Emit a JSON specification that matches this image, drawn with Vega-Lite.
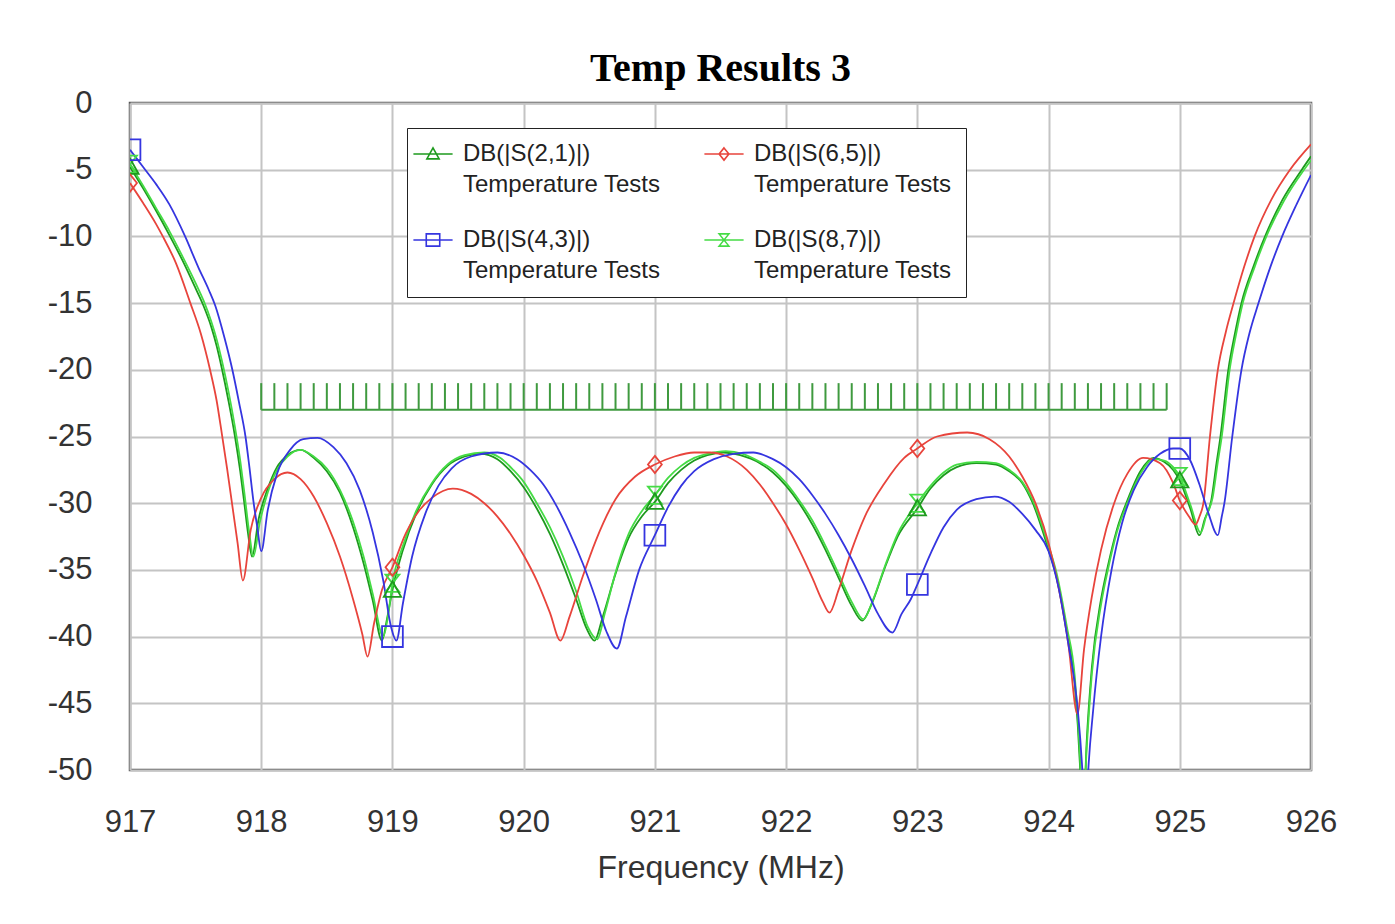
{
  "$schema": "https://vega.github.io/schema/vega-lite/v6.json",
  "width": 1181,
  "height": 667,
  "autosize": {"type": "none"},
  "padding": {"left": 130, "top": 103, "right": 84, "bottom": 154},
  "background": "white",
  "title": {"text": "Temp Results 3", "font": "Liberation Serif", "fontSize": 40, "fontWeight": "bold", "color": "#000", "anchor": "middle", "offset": -2},
  "config": {
    "view": {"stroke": "#555", "strokeWidth": 2.5},
    "axis": {"grid": true, "gridColor": "#c4c4c4", "gridWidth": 2, "ticks": false, "domain": false, "labelFont": "Liberation Sans", "labelFontSize": 31, "labelColor": "#333", "titleFont": "Liberation Sans", "titleFontSize": 32, "titleFontWeight": "normal", "titleColor": "#333"}
  },
  "datasets": {
    "curves": [
      {"s": "DB(|S(2,1)|)", "f": 917.00, "db": -4.8},
      {"s": "DB(|S(2,1)|)", "f": 917.10, "db": -6.4},
      {"s": "DB(|S(2,1)|)", "f": 917.20, "db": -8.1},
      {"s": "DB(|S(2,1)|)", "f": 917.30, "db": -9.9},
      {"s": "DB(|S(2,1)|)", "f": 917.40, "db": -11.8},
      {"s": "DB(|S(2,1)|)", "f": 917.50, "db": -13.9},
      {"s": "DB(|S(2,1)|)", "f": 917.56, "db": -15.2},
      {"s": "DB(|S(2,1)|)", "f": 917.62, "db": -16.8},
      {"s": "DB(|S(2,1)|)", "f": 917.66, "db": -18.2},
      {"s": "DB(|S(2,1)|)", "f": 917.70, "db": -19.9},
      {"s": "DB(|S(2,1)|)", "f": 917.75, "db": -22.3},
      {"s": "DB(|S(2,1)|)", "f": 917.80, "db": -25.0},
      {"s": "DB(|S(2,1)|)", "f": 917.84, "db": -27.6},
      {"s": "DB(|S(2,1)|)", "f": 917.87, "db": -29.9},
      {"s": "DB(|S(2,1)|)", "f": 917.90, "db": -32.3},
      {"s": "DB(|S(2,1)|)", "f": 917.93, "db": -34.0},
      {"s": "DB(|S(2,1)|)", "f": 917.98, "db": -31.2},
      {"s": "DB(|S(2,1)|)", "f": 918.05, "db": -28.9},
      {"s": "DB(|S(2,1)|)", "f": 918.12, "db": -27.3},
      {"s": "DB(|S(2,1)|)", "f": 918.20, "db": -26.4},
      {"s": "DB(|S(2,1)|)", "f": 918.30, "db": -26.0},
      {"s": "DB(|S(2,1)|)", "f": 918.40, "db": -26.6},
      {"s": "DB(|S(2,1)|)", "f": 918.50, "db": -27.6},
      {"s": "DB(|S(2,1)|)", "f": 918.60, "db": -29.2},
      {"s": "DB(|S(2,1)|)", "f": 918.70, "db": -31.8},
      {"s": "DB(|S(2,1)|)", "f": 918.78, "db": -34.5},
      {"s": "DB(|S(2,1)|)", "f": 918.85, "db": -37.3},
      {"s": "DB(|S(2,1)|)", "f": 918.92, "db": -40.3},
      {"s": "DB(|S(2,1)|)", "f": 918.96, "db": -38.6},
      {"s": "DB(|S(2,1)|)", "f": 919.00, "db": -36.5},
      {"s": "DB(|S(2,1)|)", "f": 919.08, "db": -33.5},
      {"s": "DB(|S(2,1)|)", "f": 919.18, "db": -30.8},
      {"s": "DB(|S(2,1)|)", "f": 919.30, "db": -28.6},
      {"s": "DB(|S(2,1)|)", "f": 919.42, "db": -27.2},
      {"s": "DB(|S(2,1)|)", "f": 919.55, "db": -26.5},
      {"s": "DB(|S(2,1)|)", "f": 919.67, "db": -26.3},
      {"s": "DB(|S(2,1)|)", "f": 919.80, "db": -26.7},
      {"s": "DB(|S(2,1)|)", "f": 919.90, "db": -27.6},
      {"s": "DB(|S(2,1)|)", "f": 920.00, "db": -28.8},
      {"s": "DB(|S(2,1)|)", "f": 920.10, "db": -30.4},
      {"s": "DB(|S(2,1)|)", "f": 920.20, "db": -32.3},
      {"s": "DB(|S(2,1)|)", "f": 920.30, "db": -34.6},
      {"s": "DB(|S(2,1)|)", "f": 920.40, "db": -37.2},
      {"s": "DB(|S(2,1)|)", "f": 920.48, "db": -39.4},
      {"s": "DB(|S(2,1)|)", "f": 920.54, "db": -40.3},
      {"s": "DB(|S(2,1)|)", "f": 920.60, "db": -38.6},
      {"s": "DB(|S(2,1)|)", "f": 920.70, "db": -35.3},
      {"s": "DB(|S(2,1)|)", "f": 920.80, "db": -32.6},
      {"s": "DB(|S(2,1)|)", "f": 920.90, "db": -31.0},
      {"s": "DB(|S(2,1)|)", "f": 921.00, "db": -29.9},
      {"s": "DB(|S(2,1)|)", "f": 921.10, "db": -28.5},
      {"s": "DB(|S(2,1)|)", "f": 921.20, "db": -27.5},
      {"s": "DB(|S(2,1)|)", "f": 921.30, "db": -26.8},
      {"s": "DB(|S(2,1)|)", "f": 921.40, "db": -26.4},
      {"s": "DB(|S(2,1)|)", "f": 921.52, "db": -26.2},
      {"s": "DB(|S(2,1)|)", "f": 921.65, "db": -26.4},
      {"s": "DB(|S(2,1)|)", "f": 921.80, "db": -27.0},
      {"s": "DB(|S(2,1)|)", "f": 921.90, "db": -27.7},
      {"s": "DB(|S(2,1)|)", "f": 922.00, "db": -28.7},
      {"s": "DB(|S(2,1)|)", "f": 922.10, "db": -30.0},
      {"s": "DB(|S(2,1)|)", "f": 922.20, "db": -31.6},
      {"s": "DB(|S(2,1)|)", "f": 922.30, "db": -33.5},
      {"s": "DB(|S(2,1)|)", "f": 922.40, "db": -35.6},
      {"s": "DB(|S(2,1)|)", "f": 922.50, "db": -37.7},
      {"s": "DB(|S(2,1)|)", "f": 922.58, "db": -38.8},
      {"s": "DB(|S(2,1)|)", "f": 922.65, "db": -37.6},
      {"s": "DB(|S(2,1)|)", "f": 922.75, "db": -34.9},
      {"s": "DB(|S(2,1)|)", "f": 922.85, "db": -32.5},
      {"s": "DB(|S(2,1)|)", "f": 923.00, "db": -30.4},
      {"s": "DB(|S(2,1)|)", "f": 923.10, "db": -28.9},
      {"s": "DB(|S(2,1)|)", "f": 923.20, "db": -27.9},
      {"s": "DB(|S(2,1)|)", "f": 923.30, "db": -27.3},
      {"s": "DB(|S(2,1)|)", "f": 923.45, "db": -27.0},
      {"s": "DB(|S(2,1)|)", "f": 923.60, "db": -27.1},
      {"s": "DB(|S(2,1)|)", "f": 923.70, "db": -27.6},
      {"s": "DB(|S(2,1)|)", "f": 923.80, "db": -28.5},
      {"s": "DB(|S(2,1)|)", "f": 923.88, "db": -30.0},
      {"s": "DB(|S(2,1)|)", "f": 924.00, "db": -33.5},
      {"s": "DB(|S(2,1)|)", "f": 924.06, "db": -35.5},
      {"s": "DB(|S(2,1)|)", "f": 924.14, "db": -39.7},
      {"s": "DB(|S(2,1)|)", "f": 924.20, "db": -43.6},
      {"s": "DB(|S(2,1)|)", "f": 924.24, "db": -49.8},
      {"s": "DB(|S(2,1)|)", "f": 924.26, "db": -55.0},
      {"s": "DB(|S(2,1)|)", "f": 924.29, "db": -48.0},
      {"s": "DB(|S(2,1)|)", "f": 924.33, "db": -42.3},
      {"s": "DB(|S(2,1)|)", "f": 924.40, "db": -37.2},
      {"s": "DB(|S(2,1)|)", "f": 924.45, "db": -34.8},
      {"s": "DB(|S(2,1)|)", "f": 924.52, "db": -32.0},
      {"s": "DB(|S(2,1)|)", "f": 924.60, "db": -29.8},
      {"s": "DB(|S(2,1)|)", "f": 924.70, "db": -27.6},
      {"s": "DB(|S(2,1)|)", "f": 924.80, "db": -26.6},
      {"s": "DB(|S(2,1)|)", "f": 924.88, "db": -26.9},
      {"s": "DB(|S(2,1)|)", "f": 924.95, "db": -27.5},
      {"s": "DB(|S(2,1)|)", "f": 925.00, "db": -28.3},
      {"s": "DB(|S(2,1)|)", "f": 925.08, "db": -30.4},
      {"s": "DB(|S(2,1)|)", "f": 925.15, "db": -32.4},
      {"s": "DB(|S(2,1)|)", "f": 925.19, "db": -31.2},
      {"s": "DB(|S(2,1)|)", "f": 925.24, "db": -29.8},
      {"s": "DB(|S(2,1)|)", "f": 925.28, "db": -27.0},
      {"s": "DB(|S(2,1)|)", "f": 925.31, "db": -25.0},
      {"s": "DB(|S(2,1)|)", "f": 925.37, "db": -20.0},
      {"s": "DB(|S(2,1)|)", "f": 925.42, "db": -17.3},
      {"s": "DB(|S(2,1)|)", "f": 925.47, "db": -15.0},
      {"s": "DB(|S(2,1)|)", "f": 925.56, "db": -12.3},
      {"s": "DB(|S(2,1)|)", "f": 925.65, "db": -10.0},
      {"s": "DB(|S(2,1)|)", "f": 925.78, "db": -7.3},
      {"s": "DB(|S(2,1)|)", "f": 925.93, "db": -5.0},
      {"s": "DB(|S(2,1)|)", "f": 926.00, "db": -4.0},

      {"s": "DB(|S(8,7)|)", "f": 917.00, "db": -4.6},
      {"s": "DB(|S(8,7)|)", "f": 917.10, "db": -6.2},
      {"s": "DB(|S(8,7)|)", "f": 917.20, "db": -7.9},
      {"s": "DB(|S(8,7)|)", "f": 917.30, "db": -9.6},
      {"s": "DB(|S(8,7)|)", "f": 917.40, "db": -11.5},
      {"s": "DB(|S(8,7)|)", "f": 917.50, "db": -13.5},
      {"s": "DB(|S(8,7)|)", "f": 917.56, "db": -14.8},
      {"s": "DB(|S(8,7)|)", "f": 917.62, "db": -16.4},
      {"s": "DB(|S(8,7)|)", "f": 917.66, "db": -17.7},
      {"s": "DB(|S(8,7)|)", "f": 917.70, "db": -19.3},
      {"s": "DB(|S(8,7)|)", "f": 917.75, "db": -21.6},
      {"s": "DB(|S(8,7)|)", "f": 917.80, "db": -24.3},
      {"s": "DB(|S(8,7)|)", "f": 917.84, "db": -26.8},
      {"s": "DB(|S(8,7)|)", "f": 917.87, "db": -29.1},
      {"s": "DB(|S(8,7)|)", "f": 917.91, "db": -32.3},
      {"s": "DB(|S(8,7)|)", "f": 917.94, "db": -34.0},
      {"s": "DB(|S(8,7)|)", "f": 917.99, "db": -31.4},
      {"s": "DB(|S(8,7)|)", "f": 918.05, "db": -29.2},
      {"s": "DB(|S(8,7)|)", "f": 918.12, "db": -27.5},
      {"s": "DB(|S(8,7)|)", "f": 918.20, "db": -26.5},
      {"s": "DB(|S(8,7)|)", "f": 918.30, "db": -26.0},
      {"s": "DB(|S(8,7)|)", "f": 918.40, "db": -26.5},
      {"s": "DB(|S(8,7)|)", "f": 918.50, "db": -27.4},
      {"s": "DB(|S(8,7)|)", "f": 918.60, "db": -29.0},
      {"s": "DB(|S(8,7)|)", "f": 918.70, "db": -31.4},
      {"s": "DB(|S(8,7)|)", "f": 918.78, "db": -34.0},
      {"s": "DB(|S(8,7)|)", "f": 918.85, "db": -36.8},
      {"s": "DB(|S(8,7)|)", "f": 918.93, "db": -40.0},
      {"s": "DB(|S(8,7)|)", "f": 918.97, "db": -38.2},
      {"s": "DB(|S(8,7)|)", "f": 919.00, "db": -36.0},
      {"s": "DB(|S(8,7)|)", "f": 919.08, "db": -33.2},
      {"s": "DB(|S(8,7)|)", "f": 919.18, "db": -30.6},
      {"s": "DB(|S(8,7)|)", "f": 919.30, "db": -28.5},
      {"s": "DB(|S(8,7)|)", "f": 919.42, "db": -27.1},
      {"s": "DB(|S(8,7)|)", "f": 919.55, "db": -26.4},
      {"s": "DB(|S(8,7)|)", "f": 919.70, "db": -26.2},
      {"s": "DB(|S(8,7)|)", "f": 919.82, "db": -26.6},
      {"s": "DB(|S(8,7)|)", "f": 919.92, "db": -27.5},
      {"s": "DB(|S(8,7)|)", "f": 920.00, "db": -28.4},
      {"s": "DB(|S(8,7)|)", "f": 920.10, "db": -30.0},
      {"s": "DB(|S(8,7)|)", "f": 920.20, "db": -31.8},
      {"s": "DB(|S(8,7)|)", "f": 920.30, "db": -34.0},
      {"s": "DB(|S(8,7)|)", "f": 920.40, "db": -36.6},
      {"s": "DB(|S(8,7)|)", "f": 920.49, "db": -39.3},
      {"s": "DB(|S(8,7)|)", "f": 920.56, "db": -40.2},
      {"s": "DB(|S(8,7)|)", "f": 920.62, "db": -38.2},
      {"s": "DB(|S(8,7)|)", "f": 920.70, "db": -35.2},
      {"s": "DB(|S(8,7)|)", "f": 920.80, "db": -32.3},
      {"s": "DB(|S(8,7)|)", "f": 920.90, "db": -30.6},
      {"s": "DB(|S(8,7)|)", "f": 921.00, "db": -29.4},
      {"s": "DB(|S(8,7)|)", "f": 921.10, "db": -28.1},
      {"s": "DB(|S(8,7)|)", "f": 921.20, "db": -27.2},
      {"s": "DB(|S(8,7)|)", "f": 921.30, "db": -26.6},
      {"s": "DB(|S(8,7)|)", "f": 921.40, "db": -26.3},
      {"s": "DB(|S(8,7)|)", "f": 921.54, "db": -26.1},
      {"s": "DB(|S(8,7)|)", "f": 921.67, "db": -26.3},
      {"s": "DB(|S(8,7)|)", "f": 921.80, "db": -26.9},
      {"s": "DB(|S(8,7)|)", "f": 921.90, "db": -27.5},
      {"s": "DB(|S(8,7)|)", "f": 922.00, "db": -28.5},
      {"s": "DB(|S(8,7)|)", "f": 922.10, "db": -29.8},
      {"s": "DB(|S(8,7)|)", "f": 922.20, "db": -31.3},
      {"s": "DB(|S(8,7)|)", "f": 922.30, "db": -33.2},
      {"s": "DB(|S(8,7)|)", "f": 922.40, "db": -35.3},
      {"s": "DB(|S(8,7)|)", "f": 922.50, "db": -37.4},
      {"s": "DB(|S(8,7)|)", "f": 922.59, "db": -38.7},
      {"s": "DB(|S(8,7)|)", "f": 922.66, "db": -37.3},
      {"s": "DB(|S(8,7)|)", "f": 922.75, "db": -34.8},
      {"s": "DB(|S(8,7)|)", "f": 922.85, "db": -32.3},
      {"s": "DB(|S(8,7)|)", "f": 923.00, "db": -30.0},
      {"s": "DB(|S(8,7)|)", "f": 923.10, "db": -28.7},
      {"s": "DB(|S(8,7)|)", "f": 923.20, "db": -27.7},
      {"s": "DB(|S(8,7)|)", "f": 923.30, "db": -27.1},
      {"s": "DB(|S(8,7)|)", "f": 923.45, "db": -26.9},
      {"s": "DB(|S(8,7)|)", "f": 923.60, "db": -27.0},
      {"s": "DB(|S(8,7)|)", "f": 923.70, "db": -27.5},
      {"s": "DB(|S(8,7)|)", "f": 923.80, "db": -28.4},
      {"s": "DB(|S(8,7)|)", "f": 923.88, "db": -29.8},
      {"s": "DB(|S(8,7)|)", "f": 924.00, "db": -33.2},
      {"s": "DB(|S(8,7)|)", "f": 924.06, "db": -35.2},
      {"s": "DB(|S(8,7)|)", "f": 924.14, "db": -39.3},
      {"s": "DB(|S(8,7)|)", "f": 924.20, "db": -43.0},
      {"s": "DB(|S(8,7)|)", "f": 924.24, "db": -49.0},
      {"s": "DB(|S(8,7)|)", "f": 924.26, "db": -54.0},
      {"s": "DB(|S(8,7)|)", "f": 924.29, "db": -48.5},
      {"s": "DB(|S(8,7)|)", "f": 924.33, "db": -42.8},
      {"s": "DB(|S(8,7)|)", "f": 924.40, "db": -37.6},
      {"s": "DB(|S(8,7)|)", "f": 924.45, "db": -35.1},
      {"s": "DB(|S(8,7)|)", "f": 924.52, "db": -32.2},
      {"s": "DB(|S(8,7)|)", "f": 924.60, "db": -30.0},
      {"s": "DB(|S(8,7)|)", "f": 924.70, "db": -27.8},
      {"s": "DB(|S(8,7)|)", "f": 924.80, "db": -26.7},
      {"s": "DB(|S(8,7)|)", "f": 924.88, "db": -26.8},
      {"s": "DB(|S(8,7)|)", "f": 924.95, "db": -27.3},
      {"s": "DB(|S(8,7)|)", "f": 925.00, "db": -28.0},
      {"s": "DB(|S(8,7)|)", "f": 925.08, "db": -30.1},
      {"s": "DB(|S(8,7)|)", "f": 925.16, "db": -32.2},
      {"s": "DB(|S(8,7)|)", "f": 925.20, "db": -31.0},
      {"s": "DB(|S(8,7)|)", "f": 925.25, "db": -29.6},
      {"s": "DB(|S(8,7)|)", "f": 925.29, "db": -26.9},
      {"s": "DB(|S(8,7)|)", "f": 925.32, "db": -25.0},
      {"s": "DB(|S(8,7)|)", "f": 925.38, "db": -20.0},
      {"s": "DB(|S(8,7)|)", "f": 925.43, "db": -17.3},
      {"s": "DB(|S(8,7)|)", "f": 925.48, "db": -15.0},
      {"s": "DB(|S(8,7)|)", "f": 925.57, "db": -12.3},
      {"s": "DB(|S(8,7)|)", "f": 925.66, "db": -10.0},
      {"s": "DB(|S(8,7)|)", "f": 925.79, "db": -7.4},
      {"s": "DB(|S(8,7)|)", "f": 925.94, "db": -5.1},
      {"s": "DB(|S(8,7)|)", "f": 926.00, "db": -4.3},

      {"s": "DB(|S(6,5)|)", "f": 917.00, "db": -6.0},
      {"s": "DB(|S(6,5)|)", "f": 917.10, "db": -7.5},
      {"s": "DB(|S(6,5)|)", "f": 917.20, "db": -9.1},
      {"s": "DB(|S(6,5)|)", "f": 917.25, "db": -10.0},
      {"s": "DB(|S(6,5)|)", "f": 917.35, "db": -12.0},
      {"s": "DB(|S(6,5)|)", "f": 917.46, "db": -15.0},
      {"s": "DB(|S(6,5)|)", "f": 917.54, "db": -17.3},
      {"s": "DB(|S(6,5)|)", "f": 917.61, "db": -20.0},
      {"s": "DB(|S(6,5)|)", "f": 917.66, "db": -22.3},
      {"s": "DB(|S(6,5)|)", "f": 917.70, "db": -24.8},
      {"s": "DB(|S(6,5)|)", "f": 917.74, "db": -27.4},
      {"s": "DB(|S(6,5)|)", "f": 917.78, "db": -30.2},
      {"s": "DB(|S(6,5)|)", "f": 917.82, "db": -33.0},
      {"s": "DB(|S(6,5)|)", "f": 917.86, "db": -35.8},
      {"s": "DB(|S(6,5)|)", "f": 917.92, "db": -32.0},
      {"s": "DB(|S(6,5)|)", "f": 918.00, "db": -29.6},
      {"s": "DB(|S(6,5)|)", "f": 918.10, "db": -28.2},
      {"s": "DB(|S(6,5)|)", "f": 918.20, "db": -27.7},
      {"s": "DB(|S(6,5)|)", "f": 918.30, "db": -28.2},
      {"s": "DB(|S(6,5)|)", "f": 918.40, "db": -29.5},
      {"s": "DB(|S(6,5)|)", "f": 918.50, "db": -31.5},
      {"s": "DB(|S(6,5)|)", "f": 918.60, "db": -34.0},
      {"s": "DB(|S(6,5)|)", "f": 918.70, "db": -37.2},
      {"s": "DB(|S(6,5)|)", "f": 918.77, "db": -39.8},
      {"s": "DB(|S(6,5)|)", "f": 918.81, "db": -41.5},
      {"s": "DB(|S(6,5)|)", "f": 918.86, "db": -39.0},
      {"s": "DB(|S(6,5)|)", "f": 918.92, "db": -36.5},
      {"s": "DB(|S(6,5)|)", "f": 919.00, "db": -34.8},
      {"s": "DB(|S(6,5)|)", "f": 919.10, "db": -32.3},
      {"s": "DB(|S(6,5)|)", "f": 919.20, "db": -30.6},
      {"s": "DB(|S(6,5)|)", "f": 919.30, "db": -29.6},
      {"s": "DB(|S(6,5)|)", "f": 919.46, "db": -28.9},
      {"s": "DB(|S(6,5)|)", "f": 919.60, "db": -29.3},
      {"s": "DB(|S(6,5)|)", "f": 919.70, "db": -30.0},
      {"s": "DB(|S(6,5)|)", "f": 919.80, "db": -31.0},
      {"s": "DB(|S(6,5)|)", "f": 919.90, "db": -32.3},
      {"s": "DB(|S(6,5)|)", "f": 920.00, "db": -33.9},
      {"s": "DB(|S(6,5)|)", "f": 920.10, "db": -35.8},
      {"s": "DB(|S(6,5)|)", "f": 920.20, "db": -38.2},
      {"s": "DB(|S(6,5)|)", "f": 920.28, "db": -40.3},
      {"s": "DB(|S(6,5)|)", "f": 920.35, "db": -38.5},
      {"s": "DB(|S(6,5)|)", "f": 920.45, "db": -35.5},
      {"s": "DB(|S(6,5)|)", "f": 920.55, "db": -32.8},
      {"s": "DB(|S(6,5)|)", "f": 920.70, "db": -29.7},
      {"s": "DB(|S(6,5)|)", "f": 920.85, "db": -28.0},
      {"s": "DB(|S(6,5)|)", "f": 921.00, "db": -27.1},
      {"s": "DB(|S(6,5)|)", "f": 921.15, "db": -26.5},
      {"s": "DB(|S(6,5)|)", "f": 921.30, "db": -26.2},
      {"s": "DB(|S(6,5)|)", "f": 921.42, "db": -26.2},
      {"s": "DB(|S(6,5)|)", "f": 921.55, "db": -26.5},
      {"s": "DB(|S(6,5)|)", "f": 921.70, "db": -27.5},
      {"s": "DB(|S(6,5)|)", "f": 921.80, "db": -28.6},
      {"s": "DB(|S(6,5)|)", "f": 921.90, "db": -30.0},
      {"s": "DB(|S(6,5)|)", "f": 922.00, "db": -31.6},
      {"s": "DB(|S(6,5)|)", "f": 922.10, "db": -33.5},
      {"s": "DB(|S(6,5)|)", "f": 922.20, "db": -35.6},
      {"s": "DB(|S(6,5)|)", "f": 922.28, "db": -37.4},
      {"s": "DB(|S(6,5)|)", "f": 922.33, "db": -38.2},
      {"s": "DB(|S(6,5)|)", "f": 922.40, "db": -36.5},
      {"s": "DB(|S(6,5)|)", "f": 922.50, "db": -33.5},
      {"s": "DB(|S(6,5)|)", "f": 922.60, "db": -31.0},
      {"s": "DB(|S(6,5)|)", "f": 922.75, "db": -28.5},
      {"s": "DB(|S(6,5)|)", "f": 922.90, "db": -26.6},
      {"s": "DB(|S(6,5)|)", "f": 923.00, "db": -25.9},
      {"s": "DB(|S(6,5)|)", "f": 923.15, "db": -25.0},
      {"s": "DB(|S(6,5)|)", "f": 923.38, "db": -24.7},
      {"s": "DB(|S(6,5)|)", "f": 923.55, "db": -25.2},
      {"s": "DB(|S(6,5)|)", "f": 923.70, "db": -26.5},
      {"s": "DB(|S(6,5)|)", "f": 923.80, "db": -28.0},
      {"s": "DB(|S(6,5)|)", "f": 923.90, "db": -30.0},
      {"s": "DB(|S(6,5)|)", "f": 924.00, "db": -33.0},
      {"s": "DB(|S(6,5)|)", "f": 924.08, "db": -36.5},
      {"s": "DB(|S(6,5)|)", "f": 924.15, "db": -40.5},
      {"s": "DB(|S(6,5)|)", "f": 924.22, "db": -45.8},
      {"s": "DB(|S(6,5)|)", "f": 924.27, "db": -41.0},
      {"s": "DB(|S(6,5)|)", "f": 924.33, "db": -37.0},
      {"s": "DB(|S(6,5)|)", "f": 924.40, "db": -33.5},
      {"s": "DB(|S(6,5)|)", "f": 924.50, "db": -30.0},
      {"s": "DB(|S(6,5)|)", "f": 924.60, "db": -27.8},
      {"s": "DB(|S(6,5)|)", "f": 924.72, "db": -26.6},
      {"s": "DB(|S(6,5)|)", "f": 924.85, "db": -27.0},
      {"s": "DB(|S(6,5)|)", "f": 924.95, "db": -28.5},
      {"s": "DB(|S(6,5)|)", "f": 925.00, "db": -29.8},
      {"s": "DB(|S(6,5)|)", "f": 925.07, "db": -31.0},
      {"s": "DB(|S(6,5)|)", "f": 925.12, "db": -31.6},
      {"s": "DB(|S(6,5)|)", "f": 925.15, "db": -31.0},
      {"s": "DB(|S(6,5)|)", "f": 925.18, "db": -30.0},
      {"s": "DB(|S(6,5)|)", "f": 925.23, "db": -25.0},
      {"s": "DB(|S(6,5)|)", "f": 925.29, "db": -20.0},
      {"s": "DB(|S(6,5)|)", "f": 925.35, "db": -17.2},
      {"s": "DB(|S(6,5)|)", "f": 925.41, "db": -15.0},
      {"s": "DB(|S(6,5)|)", "f": 925.49, "db": -12.3},
      {"s": "DB(|S(6,5)|)", "f": 925.57, "db": -10.0},
      {"s": "DB(|S(6,5)|)", "f": 925.70, "db": -7.2},
      {"s": "DB(|S(6,5)|)", "f": 925.84, "db": -5.0},
      {"s": "DB(|S(6,5)|)", "f": 926.00, "db": -3.1},

      {"s": "DB(|S(4,3)|)", "f": 917.00, "db": -3.5},
      {"s": "DB(|S(4,3)|)", "f": 917.10, "db": -4.8},
      {"s": "DB(|S(4,3)|)", "f": 917.20, "db": -6.1},
      {"s": "DB(|S(4,3)|)", "f": 917.30, "db": -7.6},
      {"s": "DB(|S(4,3)|)", "f": 917.42, "db": -10.0},
      {"s": "DB(|S(4,3)|)", "f": 917.52, "db": -12.3},
      {"s": "DB(|S(4,3)|)", "f": 917.60, "db": -14.0},
      {"s": "DB(|S(4,3)|)", "f": 917.65, "db": -15.2},
      {"s": "DB(|S(4,3)|)", "f": 917.72, "db": -17.6},
      {"s": "DB(|S(4,3)|)", "f": 917.78, "db": -20.0},
      {"s": "DB(|S(4,3)|)", "f": 917.83, "db": -22.4},
      {"s": "DB(|S(4,3)|)", "f": 917.88, "db": -25.0},
      {"s": "DB(|S(4,3)|)", "f": 917.91, "db": -27.3},
      {"s": "DB(|S(4,3)|)", "f": 917.94, "db": -29.8},
      {"s": "DB(|S(4,3)|)", "f": 917.97, "db": -31.8},
      {"s": "DB(|S(4,3)|)", "f": 918.00, "db": -33.6},
      {"s": "DB(|S(4,3)|)", "f": 918.05, "db": -30.5},
      {"s": "DB(|S(4,3)|)", "f": 918.12, "db": -27.8},
      {"s": "DB(|S(4,3)|)", "f": 918.22, "db": -26.0},
      {"s": "DB(|S(4,3)|)", "f": 918.32, "db": -25.2},
      {"s": "DB(|S(4,3)|)", "f": 918.43, "db": -25.1},
      {"s": "DB(|S(4,3)|)", "f": 918.55, "db": -25.8},
      {"s": "DB(|S(4,3)|)", "f": 918.65, "db": -27.0},
      {"s": "DB(|S(4,3)|)", "f": 918.75, "db": -29.0},
      {"s": "DB(|S(4,3)|)", "f": 918.85, "db": -32.2},
      {"s": "DB(|S(4,3)|)", "f": 918.93, "db": -35.8},
      {"s": "DB(|S(4,3)|)", "f": 918.99, "db": -39.3},
      {"s": "DB(|S(4,3)|)", "f": 919.03, "db": -40.3},
      {"s": "DB(|S(4,3)|)", "f": 919.08, "db": -37.5},
      {"s": "DB(|S(4,3)|)", "f": 919.15, "db": -34.0},
      {"s": "DB(|S(4,3)|)", "f": 919.25, "db": -30.8},
      {"s": "DB(|S(4,3)|)", "f": 919.35, "db": -28.7},
      {"s": "DB(|S(4,3)|)", "f": 919.45, "db": -27.4},
      {"s": "DB(|S(4,3)|)", "f": 919.60, "db": -26.5},
      {"s": "DB(|S(4,3)|)", "f": 919.80, "db": -26.2},
      {"s": "DB(|S(4,3)|)", "f": 919.95, "db": -26.7},
      {"s": "DB(|S(4,3)|)", "f": 920.05, "db": -27.5},
      {"s": "DB(|S(4,3)|)", "f": 920.15, "db": -28.6},
      {"s": "DB(|S(4,3)|)", "f": 920.25, "db": -30.2},
      {"s": "DB(|S(4,3)|)", "f": 920.35, "db": -32.2},
      {"s": "DB(|S(4,3)|)", "f": 920.45, "db": -34.5},
      {"s": "DB(|S(4,3)|)", "f": 920.55, "db": -37.2},
      {"s": "DB(|S(4,3)|)", "f": 920.63, "db": -39.6},
      {"s": "DB(|S(4,3)|)", "f": 920.71, "db": -40.9},
      {"s": "DB(|S(4,3)|)", "f": 920.78, "db": -38.5},
      {"s": "DB(|S(4,3)|)", "f": 920.88, "db": -35.0},
      {"s": "DB(|S(4,3)|)", "f": 921.00, "db": -32.4},
      {"s": "DB(|S(4,3)|)", "f": 921.10, "db": -30.3},
      {"s": "DB(|S(4,3)|)", "f": 921.20, "db": -28.7},
      {"s": "DB(|S(4,3)|)", "f": 921.30, "db": -27.6},
      {"s": "DB(|S(4,3)|)", "f": 921.45, "db": -26.7},
      {"s": "DB(|S(4,3)|)", "f": 921.60, "db": -26.3},
      {"s": "DB(|S(4,3)|)", "f": 921.75, "db": -26.2},
      {"s": "DB(|S(4,3)|)", "f": 921.90, "db": -26.7},
      {"s": "DB(|S(4,3)|)", "f": 922.00, "db": -27.3},
      {"s": "DB(|S(4,3)|)", "f": 922.10, "db": -28.2},
      {"s": "DB(|S(4,3)|)", "f": 922.20, "db": -29.4},
      {"s": "DB(|S(4,3)|)", "f": 922.30, "db": -30.8},
      {"s": "DB(|S(4,3)|)", "f": 922.40, "db": -32.4},
      {"s": "DB(|S(4,3)|)", "f": 922.50, "db": -34.2},
      {"s": "DB(|S(4,3)|)", "f": 922.60, "db": -36.2},
      {"s": "DB(|S(4,3)|)", "f": 922.70, "db": -38.3},
      {"s": "DB(|S(4,3)|)", "f": 922.81, "db": -39.7},
      {"s": "DB(|S(4,3)|)", "f": 922.88, "db": -38.3},
      {"s": "DB(|S(4,3)|)", "f": 922.95, "db": -37.2},
      {"s": "DB(|S(4,3)|)", "f": 923.00, "db": -36.1},
      {"s": "DB(|S(4,3)|)", "f": 923.10, "db": -33.8},
      {"s": "DB(|S(4,3)|)", "f": 923.20, "db": -31.8},
      {"s": "DB(|S(4,3)|)", "f": 923.30, "db": -30.5},
      {"s": "DB(|S(4,3)|)", "f": 923.45, "db": -29.7},
      {"s": "DB(|S(4,3)|)", "f": 923.59, "db": -29.5},
      {"s": "DB(|S(4,3)|)", "f": 923.70, "db": -29.9},
      {"s": "DB(|S(4,3)|)", "f": 923.80, "db": -30.8},
      {"s": "DB(|S(4,3)|)", "f": 923.90, "db": -32.0},
      {"s": "DB(|S(4,3)|)", "f": 924.00, "db": -33.6},
      {"s": "DB(|S(4,3)|)", "f": 924.08, "db": -36.5},
      {"s": "DB(|S(4,3)|)", "f": 924.15, "db": -40.5},
      {"s": "DB(|S(4,3)|)", "f": 924.22, "db": -45.2},
      {"s": "DB(|S(4,3)|)", "f": 924.26, "db": -50.5},
      {"s": "DB(|S(4,3)|)", "f": 924.28, "db": -55.0},
      {"s": "DB(|S(4,3)|)", "f": 924.30, "db": -50.5},
      {"s": "DB(|S(4,3)|)", "f": 924.34, "db": -45.5},
      {"s": "DB(|S(4,3)|)", "f": 924.40, "db": -40.0},
      {"s": "DB(|S(4,3)|)", "f": 924.48, "db": -35.0},
      {"s": "DB(|S(4,3)|)", "f": 924.56, "db": -31.5},
      {"s": "DB(|S(4,3)|)", "f": 924.65, "db": -29.0},
      {"s": "DB(|S(4,3)|)", "f": 924.75, "db": -27.3},
      {"s": "DB(|S(4,3)|)", "f": 924.85, "db": -26.3},
      {"s": "DB(|S(4,3)|)", "f": 924.95, "db": -25.9},
      {"s": "DB(|S(4,3)|)", "f": 925.00, "db": -25.9},
      {"s": "DB(|S(4,3)|)", "f": 925.08, "db": -26.8},
      {"s": "DB(|S(4,3)|)", "f": 925.15, "db": -28.6},
      {"s": "DB(|S(4,3)|)", "f": 925.22, "db": -30.8},
      {"s": "DB(|S(4,3)|)", "f": 925.29, "db": -32.4},
      {"s": "DB(|S(4,3)|)", "f": 925.32, "db": -31.0},
      {"s": "DB(|S(4,3)|)", "f": 925.34, "db": -30.0},
      {"s": "DB(|S(4,3)|)", "f": 925.40, "db": -25.0},
      {"s": "DB(|S(4,3)|)", "f": 925.47, "db": -20.0},
      {"s": "DB(|S(4,3)|)", "f": 925.53, "db": -17.3},
      {"s": "DB(|S(4,3)|)", "f": 925.60, "db": -15.0},
      {"s": "DB(|S(4,3)|)", "f": 925.69, "db": -12.3},
      {"s": "DB(|S(4,3)|)", "f": 925.78, "db": -10.0},
      {"s": "DB(|S(4,3)|)", "f": 925.89, "db": -7.6},
      {"s": "DB(|S(4,3)|)", "f": 926.00, "db": -5.4}
    ],
    "markers": [
      {"s": "DB(|S(8,7)|)", "m": "S87", "f": 917, "db": -4.6},
      {"s": "DB(|S(8,7)|)", "m": "S87", "f": 919, "db": -36.0},
      {"s": "DB(|S(8,7)|)", "m": "S87", "f": 921, "db": -29.4},
      {"s": "DB(|S(8,7)|)", "m": "S87", "f": 923, "db": -30.0},
      {"s": "DB(|S(8,7)|)", "m": "S87", "f": 925, "db": -28.0},
      {"s": "DB(|S(2,1)|)", "m": "S21", "f": 917, "db": -4.8},
      {"s": "DB(|S(2,1)|)", "m": "S21", "f": 919, "db": -36.5},
      {"s": "DB(|S(2,1)|)", "m": "S21", "f": 921, "db": -29.9},
      {"s": "DB(|S(2,1)|)", "m": "S21", "f": 923, "db": -30.4},
      {"s": "DB(|S(2,1)|)", "m": "S21", "f": 925, "db": -28.3},
      {"s": "DB(|S(6,5)|)", "m": "S65", "f": 917, "db": -6.0},
      {"s": "DB(|S(6,5)|)", "m": "S65", "f": 919, "db": -34.8},
      {"s": "DB(|S(6,5)|)", "m": "S65", "f": 921, "db": -27.1},
      {"s": "DB(|S(6,5)|)", "m": "S65", "f": 923, "db": -25.9},
      {"s": "DB(|S(6,5)|)", "m": "S65", "f": 925, "db": -29.8},
      {"s": "DB(|S(4,3)|)", "m": "S43", "f": 917, "db": -3.5},
      {"s": "DB(|S(4,3)|)", "m": "S43", "f": 919, "db": -40.0},
      {"s": "DB(|S(4,3)|)", "m": "S43", "f": 921, "db": -32.4},
      {"s": "DB(|S(4,3)|)", "m": "S43", "f": 923, "db": -36.1},
      {"s": "DB(|S(4,3)|)", "m": "S43", "f": 925, "db": -25.9}
    ],
    "maskBase": [{"f": 918.0, "f2": 924.9}],
    "maskTicks": [
      {"f": 918.0}, {"f": 918.1}, {"f": 918.2}, {"f": 918.3}, {"f": 918.4}, {"f": 918.5}, {"f": 918.6}, {"f": 918.7}, {"f": 918.8}, {"f": 918.9},
      {"f": 919.0}, {"f": 919.1}, {"f": 919.2}, {"f": 919.3}, {"f": 919.4}, {"f": 919.5}, {"f": 919.6}, {"f": 919.7}, {"f": 919.8}, {"f": 919.9},
      {"f": 920.0}, {"f": 920.1}, {"f": 920.2}, {"f": 920.3}, {"f": 920.4}, {"f": 920.5}, {"f": 920.6}, {"f": 920.7}, {"f": 920.8}, {"f": 920.9},
      {"f": 921.0}, {"f": 921.1}, {"f": 921.2}, {"f": 921.3}, {"f": 921.4}, {"f": 921.5}, {"f": 921.6}, {"f": 921.7}, {"f": 921.8}, {"f": 921.9},
      {"f": 922.0}, {"f": 922.1}, {"f": 922.2}, {"f": 922.3}, {"f": 922.4}, {"f": 922.5}, {"f": 922.6}, {"f": 922.7}, {"f": 922.8}, {"f": 922.9},
      {"f": 923.0}, {"f": 923.1}, {"f": 923.2}, {"f": 923.3}, {"f": 923.4}, {"f": 923.5}, {"f": 923.6}, {"f": 923.7}, {"f": 923.8}, {"f": 923.9},
      {"f": 924.0}, {"f": 924.1}, {"f": 924.2}, {"f": 924.3}, {"f": 924.4}, {"f": 924.5}, {"f": 924.6}, {"f": 924.7}, {"f": 924.8}, {"f": 924.9}
    ]
  },
  "layer": [
    {
      "data": {"name": "maskTicks"},
      "mark": {"type": "rule", "color": "#3f9a3f", "strokeWidth": 2},
      "encoding": {
        "x": {"field": "f", "type": "quantitative", "scale": {"domain": [917, 926], "nice": false, "zero": false}, "title": "Frequency (MHz)"},
        "y": {"datum": -21, "type": "quantitative", "scale": {"domain": [-50, 0], "nice": false}},
        "y2": {"datum": -23}
      }
    },
    {
      "data": {"name": "maskBase"},
      "mark": {"type": "rule", "color": "#3f9a3f", "strokeWidth": 2},
      "encoding": {
        "x": {"field": "f", "type": "quantitative", "title": "Frequency (MHz)"},
        "x2": {"field": "f2"},
        "y": {"datum": -23, "type": "quantitative"}
      }
    },
    {
      "data": {"name": "curves"},
      "mark": {"type": "line", "interpolate": "monotone", "clip": true, "strokeWidth": 1.8},
      "encoding": {
        "x": {"field": "f", "type": "quantitative", "title": "Frequency (MHz)",
              "axis": {"values": [917, 918, 919, 920, 921, 922, 923, 924, 925, 926], "labelExpr": "'' + datum.value", "labelFlush": false, "labelPadding": 37, "titlePadding": 15}},
        "y": {"field": "db", "type": "quantitative", "title": null,
              "axis": {"values": [0, -5, -10, -15, -20, -25, -30, -35, -40, -45, -50], "labelExpr": "'' + datum.value", "labelPadding": 38}},
        "color": {"field": "s", "type": "nominal",
                  "scale": {"domain": ["DB(|S(2,1)|)", "DB(|S(6,5)|)", "DB(|S(4,3)|)", "DB(|S(8,7)|)"], "range": ["#1e9a1e", "#e8443c", "#3535e0", "#45dc45"]},
                  "legend": {"title": null, "orient": "none", "legendX": 277, "legendY": 25, "columns": 2, "direction": "horizontal",
                             "fillColor": "white", "strokeColor": "#222", "padding": 14,
                             "labelFont": "Liberation Sans", "labelFontSize": 24, "labelColor": "#222", "labelLimit": 0, "labelOffset": 18,
                             "symbolSize": 150, "symbolStrokeWidth": 1.6, "rowPadding": 31, "columnPadding": 40,
                             "labelExpr": "[datum.label, 'Temperature Tests']",
                             "encode": {
                               "symbols": {"update": {
                                 "shape": {"signal": "datum.value === 'DB(|S(2,1)|)' ? 'M-3.2,0L3.2,0M0,-1L1,0.8L-1,0.8Z' : datum.value === 'DB(|S(6,5)|)' ? 'M-3.2,0L3.2,0M0,-1L0.8,0L0,1L-0.8,0Z' : datum.value === 'DB(|S(4,3)|)' ? 'M-3.2,0L3.2,0M-1.1,-1L1.1,-1L1.1,1L-1.1,1Z' : 'M-3.2,0L3.2,0M-0.8,-1L0.8,-1L-0.8,1L0.8,1Z'"},
                                 "size": {"value": 150},
                                 "strokeWidth": {"value": 1.6},
                                 "fill": {"value": "transparent"}}},
                               "labels": {"update": {"lineHeight": {"value": 31}}}
                             }}}
      }
    },
    {
      "data": {"name": "markers"},
      "mark": {"type": "point", "filled": false, "strokeWidth": 1.8, "size": 300, "opacity": 1, "clip": true},
      "encoding": {
        "x": {"field": "f", "type": "quantitative", "title": "Frequency (MHz)"},
        "y": {"field": "db", "type": "quantitative", "title": null},
        "color": {"field": "s", "type": "nominal"},
        "shape": {"field": "m", "type": "nominal", "legend": null,
                  "scale": {"domain": ["S21", "S65", "S43", "S87"],
                            "range": ["M0,-1L1,0.8L-1,0.8Z", "M0,-1L0.8,0L0,1L-0.8,0Z", "M-1.2,-1.2L1.2,-1.2L1.2,1.2L-1.2,1.2Z", "M-0.8,-1L0.8,-1L-0.8,1L0.8,1Z"]}}
      }
    }
  ]
}
